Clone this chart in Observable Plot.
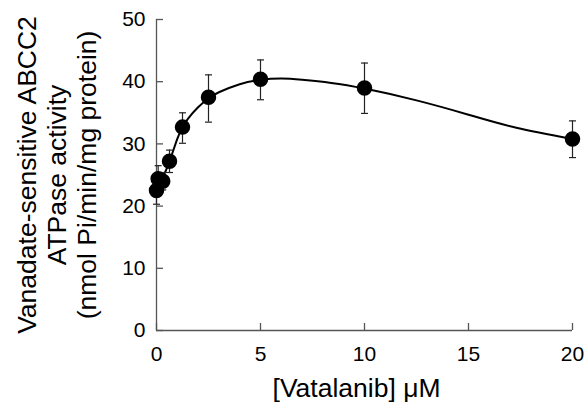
<!DOCTYPE html>
<html>
<head>
<meta charset="utf-8">
<script src="https://cdn.jsdelivr.net/npm/d3@7"></script>
<script src="https://cdn.jsdelivr.net/npm/@observablehq/plot@0.6"></script>
<style>
  html, body { margin: 0; padding: 0; background: #fff; }
  #chart svg { font-family: "Liberation Sans", Arial, sans-serif; }
</style>
</head>
<body>
<div id="chart"></div>
<script>
// Measured points: Vatalanib concentration (µM), activity, SD
const conc = [0, 0.08, 0.3, 0.625, 1.25, 2.5, 5, 10, 20];
const activity = [22.5, 24.4, 24.0, 27.2, 32.7, 37.5, 40.4, 39.0, 30.8];
const errLow = [20.3, 22.6, 22.6, 25.4, 30.1, 33.5, 37.1, 34.9, 27.8];
const errHigh = [24.7, 26.5, 25.4, 29.0, 35.0, 41.1, 43.5, 43.0, 33.7];

// Fitted curve
const curveX = [0, 0.3, 0.625, 1.0, 1.25, 1.5, 2.0, 2.5, 3, 4, 5, 6, 7, 8.4, 10, 12.5, 15, 17.3, 20];
const curveY = [22.5, 24.6, 27.2, 30.8, 32.7, 34.0, 35.9, 37.3, 38.3, 39.6, 40.3, 40.5, 40.3, 39.8, 38.9, 37.0, 34.7, 32.6, 30.8];

const xTicks = [0, 5, 10, 15, 20];
const yTicks = [0, 10, 20, 30, 40, 50];

const xTitle = "[Vatalanib] μM";
const yTitle = "Vanadate-sensitive ABCC2\nATPase activity\n(nmol Pi/min/mg protein)";

const points = conc.map((c, i) => ({x: c, y: activity[i], lo: errLow[i], hi: errHigh[i]}));
const curve = curveX.map((c, i) => ({x: c, y: curveY[i]}));

// horizontal cap symbol for error bars (fixed 7px wide)
const capSymbol = {
  draw(context) {
    context.moveTo(-3.5, 0);
    context.lineTo(3.5, 0);
  }
};

const axisColor = "#555";
const W = 585, H = 403, mL = 156, mR = 13, mT = 19, mB = 73;
const tickLen = 7;

const chart = Plot.plot({
  width: W,
  height: H,
  marginLeft: mL,
  marginRight: mR,
  marginTop: mT,
  marginBottom: mB,
  style: {fontFamily: "'Liberation Sans', Arial, sans-serif", background: "#fff", color: "#000"},
  x: {domain: [0, 20]},
  y: {domain: [0, 50]},
  marks: [
    Plot.ruleY([0], {stroke: axisColor, strokeWidth: 1.3}),
    Plot.ruleX([0], {stroke: axisColor, strokeWidth: 1.3}),
    // inward ticks
    Plot.ruleX(xTicks, {x: d => d, insetTop: (H - mT - mB) - tickLen, stroke: axisColor, strokeWidth: 1.3}),
    Plot.ruleY(yTicks, {y: d => d, insetRight: (W - mL - mR) - tickLen, stroke: axisColor, strokeWidth: 1.3}),
    Plot.axisX({ticks: xTicks, tickFormat: d => String(d), tickSize: 0, tickPadding: 16, fontSize: 21, fill: "#000", label: null}),
    Plot.axisY({ticks: yTicks, tickFormat: d => String(d), tickSize: 0, tickPadding: 11, fontSize: 21, fill: "#000", label: null}),
    Plot.line(curve, {x: "x", y: "y", curve: "natural", stroke: "#000", strokeWidth: 2}),
    Plot.ruleX(points, {x: "x", y1: "lo", y2: "hi", stroke: "#222", strokeWidth: 1.2}),
    Plot.dot(points, {x: "x", y: "lo", symbol: capSymbol, r: 3.5, fill: "none", stroke: "#222", strokeWidth: 1.2}),
    Plot.dot(points, {x: "x", y: "hi", symbol: capSymbol, r: 3.5, fill: "none", stroke: "#222", strokeWidth: 1.2}),
    Plot.dot(points, {x: "x", y: "y", r: 7, fill: "#000", stroke: "#000"}),
    Plot.text([xTitle], {frameAnchor: "bottom", dx: -8, dy: 66, lineAnchor: "bottom", fontSize: 26.5, fill: "#000"}),
    Plot.text([yTitle], {frameAnchor: "left", dx: -100, rotate: -90, lineAnchor: "middle", textAnchor: "middle", lineHeight: 1.12, fontSize: 26.5, fill: "#000"})
  ]
});

document.getElementById("chart").appendChild(chart);
</script>
</body>
</html>
